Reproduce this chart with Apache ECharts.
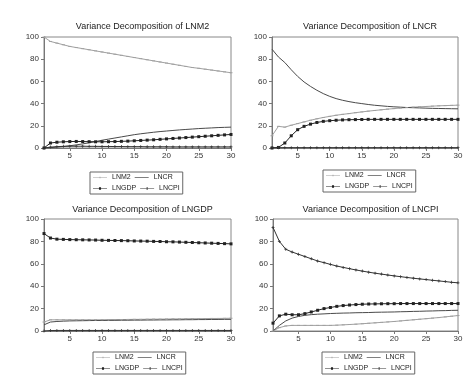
<!DOCTYPE html>
<html><head><meta charset="utf-8">
<script src="https://cdn.jsdelivr.net/npm/echarts@6/dist/echarts.min.js"></script>
<style>html,body{margin:0;padding:0;background:#fff}#c{width:471px;height:388px}</style>
</head><body><div id="c"></div>
<script>
var periods = ['1','2','3','4','5','6','7','8','9','10','11','12','13','14','15','16','17','18','19','20','21','22','23','24','25','26','27','28','29','30'];
var seriesNames = ['LNM2','LNCR','LNGDP','LNCPI'];
var panelTitles = ['Variance Decomposition of LNM2','Variance Decomposition of LNCR','Variance Decomposition of LNGDP','Variance Decomposition of LNCPI'];
var yTicks = [0,20,40,60,80,100];

// Panel 1: LNM2
var m2_LNM2 = [100,96,94.5,93,91.5,90.5,89.5,88.5,87.5,86.5,85.5,84.5,83.5,82.5,81.5,80.5,79.5,78.5,77.5,76.5,75.5,74.5,73.5,72.5,71.8,71,70.2,69.4,68.6,67.8];
var m2_LNCR = [0,0.3,0.8,1.3,2,2.8,3.7,4.7,5.8,7,8,9,10,11,12,12.8,13.5,14.2,14.8,15.3,15.8,16.3,16.7,17.1,17.5,17.8,18.1,18.4,18.6,18.8];
var m2_LNGDP = [0,4.5,5.2,5.6,5.8,5.9,5.8,5.7,5.6,5.6,5.7,5.8,6,6.2,6.5,6.8,7.1,7.4,7.8,8.2,8.6,9,9.4,9.8,10.2,10.6,11,11.4,11.8,12.2];
var m2_LNCPI = [0,0.8,1.2,1.5,1.6,1.6,1.6,1.5,1.5,1.4,1.4,1.3,1.3,1.2,1.2,1.2,1.1,1.1,1.1,1.1,1,1,1,1,1,1,1,1,1,1];

// Panel 2: LNCR
var cr_LNM2 = [11,19.5,18.8,20.5,22,23.5,25,26.3,27.5,28.5,29.5,30.3,31,31.8,32.5,33.2,33.8,34.4,35,35.5,36,36.4,36.8,37.1,37.4,37.7,38,38.2,38.4,38.6];
var cr_LNCR = [89,82,77,70.5,64.5,59.5,55.5,52,49,46.5,44.5,43,41.8,40.8,40,39.2,38.5,38,37.5,37.1,36.8,36.5,36.3,36.1,35.9,35.7,35.6,35.5,35.4,35.3];
var cr_LNGDP = [0,0.5,4.5,11,16.5,19.5,21.5,23,24,24.6,25,25.3,25.5,25.6,25.7,25.8,25.8,25.8,25.8,25.8,25.8,25.8,25.8,25.8,25.8,25.8,25.8,25.8,25.8,25.8];
var cr_LNCPI = [0.3,0.3,0.3,0.3,0.3,0.3,0.3,0.3,0.3,0.3,0.3,0.3,0.3,0.3,0.3,0.3,0.3,0.3,0.3,0.3,0.3,0.3,0.3,0.3,0.3,0.3,0.3,0.3,0.3,0.3];

// Panel 3: LNGDP
var gdp_LNM2 = [8,10,10,10,10,10,10,10,10,10,10.1,10.2,10.2,10.3,10.4,10.4,10.5,10.6,10.6,10.7,10.8,10.8,10.9,11,11,11.1,11.2,11.2,11.3,11.4];
var gdp_LNCR = [5.5,8,8.5,8.8,9,9.1,9.2,9.3,9.4,9.4,9.5,9.5,9.6,9.6,9.7,9.7,9.8,9.8,9.9,9.9,10,10,10.1,10.1,10.2,10.2,10.3,10.3,10.4,10.4];
var gdp_LNGDP = [87,83,82,81.8,81.6,81.5,81.4,81.3,81.2,81,80.9,80.8,80.7,80.6,80.4,80.3,80.2,80,79.9,79.7,79.6,79.4,79.2,79,78.8,78.6,78.4,78.2,78,77.8];
var gdp_LNCPI = [0,0.4,0.5,0.5,0.5,0.5,0.5,0.5,0.5,0.5,0.5,0.5,0.5,0.5,0.5,0.5,0.5,0.5,0.5,0.5,0.5,0.5,0.5,0.5,0.5,0.5,0.5,0.5,0.5,0.5];

// Panel 4: LNCPI
var cpi_LNM2 = [0,3,4.5,5,5,5,5,5,5,5,5.2,5.5,5.8,6.1,6.5,6.9,7.3,7.7,8.1,8.5,9,9.5,10,10.5,11,11.5,12,12.6,13.2,13.8];
var cpi_LNCR = [0,5,9,11.5,13,14,14.6,15,15.3,15.6,15.8,16,16.1,16.3,16.4,16.5,16.7,16.8,16.9,17,17.2,17.3,17.5,17.6,17.8,17.9,18.1,18.2,18.4,18.5];
var cpi_LNGDP = [7,13.5,15,14.5,14.5,15.5,17,18.5,20,21,22,22.7,23.2,23.6,23.9,24.1,24.2,24.3,24.4,24.4,24.5,24.5,24.5,24.5,24.5,24.5,24.5,24.5,24.5,24.5];
var cpi_LNCPI = [92.5,80,73,70.5,68.5,66.5,64.5,62.5,61,59.5,58,56.8,55.6,54.5,53.5,52.5,51.6,50.8,50,49.2,48.5,47.8,47.1,46.5,45.9,45.3,44.7,44.1,43.5,43];

var panelData = [
  [m2_LNM2, m2_LNCR, m2_LNGDP, m2_LNCPI],
  [cr_LNM2, cr_LNCR, cr_LNGDP, cr_LNCPI],
  [gdp_LNM2, gdp_LNCR, gdp_LNGDP, gdp_LNCPI],
  [cpi_LNM2, cpi_LNCR, cpi_LNGDP, cpi_LNCPI]
];

var FONT = 'Liberation Sans, Arial, sans-serif';
var grids = [
  {left:44, top:37, width:187, height:111},
  {left:272, top:37, width:186, height:111},
  {left:44, top:219, width:187, height:112},
  {left:273, top:219, width:185, height:112}
];
var titlePos = [[137.5,17],[365,17],[137.5,200],[365.5,200]];
var legendPos = [[90,172],[323,170],[93,352],[322,352]];

var colors = ['#a0a0a0','#4a4a4a','#222222','#333333'];
var symbols = ['path://M0,0H8V2H0Z','none','rect','path://M3,0H5V3H8V5H5V8H3V5H0V3H3Z'];
var symSizes = [[3,1],0,3,3];
var legendIcons = [
  'path://M0,3.6H16V4.4H0Z M7.5,3.2H8.5V4.8H7.5Z',
  'path://M0,3.6H16V4.4H0Z',
  'path://M0,3.6H16V4.4H0Z M6.8,2.6H9.2V5.4H6.8Z',
  'path://M0,3.6H16V4.4H0Z M7.5,2.4H8.5V5.6H7.5Z'
];

var option = {animation:false, backgroundColor:'#fff', title:[], grid:[], xAxis:[], yAxis:[], legend:[], series:[]};
for (var p=0;p<4;p++){
  option.title.push({text:panelTitles[p], left:titlePos[p][0], top:titlePos[p][1], textAlign:'center',
    textStyle:{fontFamily:FONT,fontSize:9,fontWeight:'normal',color:'#222'}});
  option.grid.push(Object.assign({show:true,borderColor:'#888',borderWidth:1,backgroundColor:'#fff'}, grids[p]));
  option.xAxis.push({type:'category', gridIndex:p, data:periods, boundaryGap:false,
    axisLine:{lineStyle:{color:'#777'}},
    axisTick:{show:true, interval:function(i){return (i+1)%5===0;}, length:3, lineStyle:{color:'#777'}},
    axisLabel:{interval:function(i){return (i+1)%5===0;}, fontFamily:FONT, fontSize:8, color:'#333', margin:4},
    splitLine:{show:false}});
  option.yAxis.push({type:'value', gridIndex:p, min:yTicks[0], max:yTicks[yTicks.length-1], interval:20,
    axisLine:{show:true,lineStyle:{color:'#777'}},
    axisTick:{show:true,length:3,lineStyle:{color:'#777'}},
    axisLabel:{fontFamily:FONT,fontSize:8,color:'#333',margin:5},
    splitLine:{show:false}});
  option.legend.push({
    data:seriesNames.map(function(n,i){return {name:n, icon:legendIcons[i], itemStyle:{color:colors[i]}};}),
    left:legendPos[p][0], top:legendPos[p][1], width:93,
    orient:'horizontal', itemWidth:14, itemHeight:6, itemGap:4, padding:[2,3],
    borderColor:'#666', borderWidth:1,
    textStyle:{fontFamily:FONT,fontSize:7,color:'#222',width:24}});
  for (var s=0;s<4;s++){
    option.series.push({type:'line', name:seriesNames[s], xAxisIndex:p, yAxisIndex:p,
      data:panelData[p][s], symbol:symbols[s], symbolSize:symSizes[s], showSymbol:symbols[s]!=='none',
      color:colors[s], lineStyle:{width:1,color:colors[s]}, itemStyle:{color:colors[s]}});
  }
}
var chart = echarts.init(document.getElementById('c'), null, {renderer:'canvas'});
chart.setOption(option);
</script></body></html>
